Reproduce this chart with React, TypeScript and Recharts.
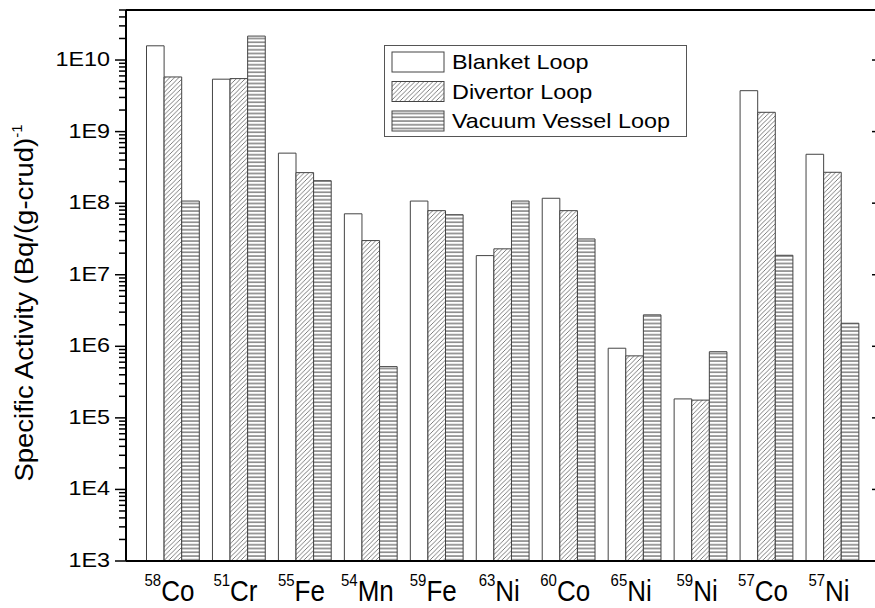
import React from "react";
import {
  BarChart,
  Bar,
  XAxis,
  YAxis,
  Legend,
  Label,
} from "recharts";

const elements = ["Co", "Cr", "Fe", "Mn", "Fe", "Ni", "Co", "Ni", "Ni", "Co", "Ni"];
const massNumbers = ["58", "51", "55", "54", "59", "63", "60", "65", "59", "57", "57"];

const blanketLoop = [1.58e10, 5.4e9, 5.0e8, 7.1e7, 1.07e8, 1.85e7, 1.17e8, 9.4e5, 1.84e5, 3.73e9, 4.82e8];
const divertorLoop = [5.8e9, 5.5e9, 2.67e8, 3.0e7, 7.86e7, 2.3e7, 7.86e7, 7.35e5, 1.77e5, 1.86e9, 2.7e8];
const vacuumVesselLoop = [1.07e8, 2.16e10, 2.06e8, 5.2e5, 6.9e7, 1.07e8, 3.16e7, 2.75e6, 8.4e5, 1.87e7, 2.1e6];

const majorTicks = [1e3, 1e4, 1e5, 1e6, 1e7, 1e8, 1e9, 1e10];
const majorTickLabels = ["1E3", "1E4", "1E5", "1E6", "1E7", "1E8", "1E9", "1E10"];

const seriesNames = ["Blanket Loop", "Divertor Loop", "Vacuum Vessel Loop"];
const seriesFills = ["#ffffff", "url(#hatchDiag)", "url(#hatchHoriz)"];

const Y_MIN = 1e3;
const Y_MAX = 5e10;
const FONT = "'Liberation Sans', Arial, sans-serif";

// minor log ticks 2..9 in each decade
const minorTicks: number[] = [];
majorTicks.forEach((d) => {
  for (let m = 2; m <= 9; m++) {
    if (m * d <= Y_MAX) minorTicks.push(m * d);
  }
});
const allTicks = [...majorTicks, ...minorTicks].sort((a, b) => a - b);

const data = elements.map((el, i) => ({
  name: massNumbers[i] + el,
  blanket: blanketLoop[i],
  divertor: divertorLoop[i],
  vacuum: vacuumVesselLoop[i],
}));

function LeftTick(props: any) {
  const { x, y, payload } = props;
  const i = majorTicks.indexOf(payload.value);
  if (i < 0) {
    return <line x1={x - 7} x2={x} y1={y} y2={y} stroke="#000" strokeWidth={1.5} />;
  }
  return (
    <g>
      <line x1={x - 11} x2={x} y1={y} y2={y} stroke="#000" strokeWidth={1.5} />
      <text
        transform={`translate(${x - 16},${y + 6}) scale(1.17,1)`}
        textAnchor="end"
        fontSize={20}
        fontFamily={FONT}
        fill="#000"
      >
        {majorTickLabels[i]}
      </text>
    </g>
  );
}

function RightTick(props: any) {
  const { x, y } = props;
  return <line x1={x - 5} x2={x} y1={y} y2={y} stroke="#000" strokeWidth={1.5} />;
}

function BottomTick(props: any) {
  const { x, index } = props;
  return (
    <text
      transform={`translate(${x - 3},601) scale(1,1.12)`}
      textAnchor="middle"
      fontFamily={FONT}
      fill="#000"
    >
      <tspan fontSize={15} dy={-13}>{massNumbers[index]}</tspan>
      <tspan fontSize={26} dy={13}>{elements[index]}</tspan>
    </text>
  );
}

function YTitle() {
  return (
    <text
      transform="translate(33,303) rotate(-90) scale(1,0.93)"
      textAnchor="middle"
      fontFamily={FONT}
      fontSize={27.5}
      fill="#000"
    >
      Specific Activity (Bq/(g-crud)
      <tspan fontSize={15} dy={-12}>-1</tspan>
    </text>
  );
}

function LegendBox() {
  return (
    <svg width={304} height={93}>
      <rect x={0.5} y={0.5} width={302} height={91} fill="#fff" stroke="#555" />
      {seriesNames.map((n, i) => (
        <g key={n}>
          <rect
            x={8}
            y={7 + i * 29.5}
            width={52}
            height={20}
            fill={seriesFills[i]}
            stroke="#444"
          />
          <text
            transform={`translate(68,${24 + i * 29.5}) scale(1.17,1)`}
            fontSize={20}
            fontFamily={FONT}
            fill="#000"
          >
            {n}
          </text>
        </g>
      ))}
    </svg>
  );
}

export default function App() {
  return (
    <div
      style={{
        position: "absolute",
        left: 0,
        top: 0,
        width: 875,
        height: 608,
        overflow: "hidden",
        background: "#fff",
      }}
    >
      <svg width={0} height={0} style={{ position: "absolute" }}>
        <defs>
          <pattern id="hatchDiag" patternUnits="userSpaceOnUse" width={4.5} height={4.5}>
            <rect width={4.5} height={4.5} fill="#fff" />
            <path
              d="M0,4.5 L4.5,0 M-1,1 L1,-1 M3.5,5.5 L5.5,3.5"
              stroke="#444"
              strokeWidth={0.7}
            />
          </pattern>
          <pattern id="hatchHoriz" patternUnits="userSpaceOnUse" width={10} height={3.75}>
            <rect width={10} height={3.75} fill="#fff" />
            <line x1={0} x2={10} y1={1} y2={1} stroke="#222" strokeWidth={0.9} />
          </pattern>
        </defs>
      </svg>
      <BarChart
        width={890}
        height={608}
        data={data}
        margin={{ top: 9, right: 12, bottom: 0, left: 0 }}
        barGap={0}
      >
        <XAxis
          dataKey="name"
          interval={0}
          height={47}
          padding={{ left: 13.5, right: 12 }}
          tickSize={0}
          tickLine={false}
          tick={<BottomTick />}
          axisLine={{ stroke: "#000", strokeWidth: 2 }}
        />
        <XAxis
          xAxisId="top"
          orientation="top"
          dataKey="name"
          height={1}
          tick={false}
          tickLine={false}
          axisLine={{ stroke: "#000", strokeWidth: 2 }}
        />
        <YAxis
          scale="log"
          domain={[Y_MIN, Y_MAX]}
          allowDataOverflow
          ticks={allTicks}
          interval={0}
          width={126}
          tickSize={0}
          tickMargin={0}
          tickLine={false}
          tick={<LeftTick />}
          axisLine={{ stroke: "#000", strokeWidth: 2 }}
        >
          <Label content={<YTitle />} />
        </YAxis>
        <YAxis
          yAxisId="right"
          orientation="right"
          scale="log"
          domain={[Y_MIN, Y_MAX]}
          allowDataOverflow
          ticks={majorTicks}
          interval={0}
          width={1}
          tickSize={0}
          tickMargin={0}
          tickLine={false}
          tick={<RightTick />}
          axisLine={{ stroke: "#000", strokeWidth: 2 }}
        />
        <Legend
          layout="vertical"
          align="center"
          verticalAlign="middle"
          content={() => <LegendBox />}
          wrapperStyle={{ left: 384, top: 45, width: 304, height: 93 }}
        />
        <Bar dataKey="blanket" name={seriesNames[0]} fill={seriesFills[0]} stroke="#444" barSize={17.6} isAnimationActive={false} />
        <Bar dataKey="divertor" name={seriesNames[1]} fill={seriesFills[1]} stroke="#444" barSize={17.6} isAnimationActive={false} />
        <Bar dataKey="vacuum" name={seriesNames[2]} fill={seriesFills[2]} stroke="#444" barSize={17.6} isAnimationActive={false} />
      </BarChart>
    </div>
  );
}
